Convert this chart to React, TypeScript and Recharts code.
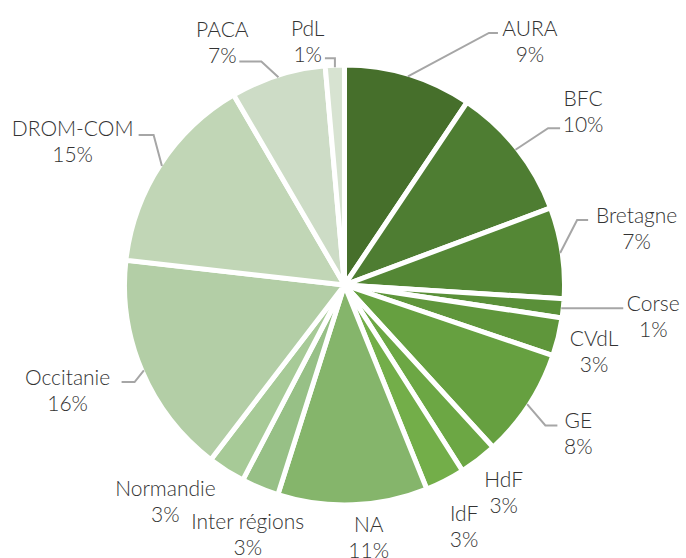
import { Cell, Pie, PieChart } from 'recharts';

const regions = [
  'AURA', 'BFC', 'Bretagne', 'Corse', 'CVdL', 'GE', 'HdF', 'IdF', 'NA',
  'Inter régions', 'Normandie', 'Occitanie', 'DROM-COM', 'PACA', 'PdL',
];
const shares = [9.4, 9.9, 6.7, 1.4, 2.8, 8.0, 2.8, 2.9, 11.0, 2.75, 2.75, 16.4, 14.8, 7.0, 1.4];
const colors = [
  '#466f2b', '#4e7d32', '#548735', '#5a9039', '#5f963b', '#66a040', '#6ca744', '#73ae49',
  '#85b56b', '#97c086', '#a7ca97', '#b3cea6', '#c1d6b6', '#cddcc6', '#d7e3d1',
];

const data = regions.map((name, i) => ({ name, value: shares[i], color: colors[i] }));

// leader line + text placement, relative to the slice edge at its mid angle
type Layout = { elbow?: [number, number]; run?: number; text: [number, number] };
const LABEL_LAYOUT: Record<string, Layout> = {
  AURA: { elbow: [81, -43.5], run: 9, text: [122, -49.5] },
  BFC: { elbow: [32.6, -21.6], run: 12, text: [67.6, -52.6] },
  Bretagne: { elbow: [17, -33], run: 11, text: [76.5, -39] },
  Corse: { elbow: [0, 0], run: 62, text: [92, -6] },
  CVdL: { text: [37.8, 0] },
  GE: { elbow: [18.3, 21.3], run: 12, text: [51.3, 15.3] },
  HdF: { text: [26.7, 20.4] },
  IdF: { text: [20, 32.6] },
  NA: { text: [16, 20] },
  'Inter régions': { text: [-13, 33.6] },
  Normandie: { text: [-62, 17.7] },
  Occitanie: { elbow: [-9.3, 11.8], run: -13, text: [-76.3, 5.8] },
  'DROM-COM': { elbow: [-8.3, -30.9], run: -15, text: [-89.3, -38.9] },
  PACA: { elbow: [-17.1, -15.7], run: -22, text: [-56.1, -49.7] },
  PdL: { elbow: [0, -9], run: -10, text: [-27.2, -40.2] },
};

const RAD = Math.PI / 180;

function renderLabel(props: any) {
  const { cx, cy, midAngle, outerRadius, name, percent } = props;
  const r = outerRadius - 2;
  const sx = cx + r * Math.cos(-midAngle * RAD);
  const sy = cy + r * Math.sin(-midAngle * RAD);
  const lay = LABEL_LAYOUT[name];
  const tx = sx + lay.text[0];
  const ty = sy + lay.text[1];
  let line = null;
  if (lay.elbow) {
    const ex = sx + lay.elbow[0];
    const ey = sy + lay.elbow[1];
    line = (
      <polyline
        points={`${sx},${sy} ${ex},${ey} ${ex + (lay.run || 0)},${ey}`}
        fill="none"
        stroke="#a6a6a6"
        strokeWidth={2}
      />
    );
  }
  return (
    <g key={name}>
      {line}
      <text
        x={tx}
        y={ty}
        textAnchor="middle"
        dominantBaseline="central"
        fill="#333333"
        fontSize={21}
        fontWeight={300}
        fontFamily="Lato, 'Open Sans', sans-serif"
      >
        <tspan x={tx} dy={0}>{name}</tspan>
        <tspan x={tx} dy={26}>{`${Math.round(percent * 100)}%`}</tspan>
      </text>
    </g>
  );
}

export default function App() {
  return (
    <div style={{ width: 686, height: 558, background: '#fff' }}>
      <style>{'body{margin:0}'}</style>
      <PieChart width={686} height={558} margin={{ top: 0, right: 0, bottom: 0, left: 0 }}>
        <Pie
          data={data}
          dataKey="value"
          nameKey="name"
          cx={344.5}
          cy={285}
          outerRadius={220}
          startAngle={90}
          endAngle={-270}
          stroke="#ffffff"
          strokeWidth={5}
          labelLine={false}
          label={renderLabel}
          isAnimationActive={false}
        >
          {data.map((d) => (
            <Cell key={d.name} fill={d.color} />
          ))}
        </Pie>
      </PieChart>
    </div>
  );
}
